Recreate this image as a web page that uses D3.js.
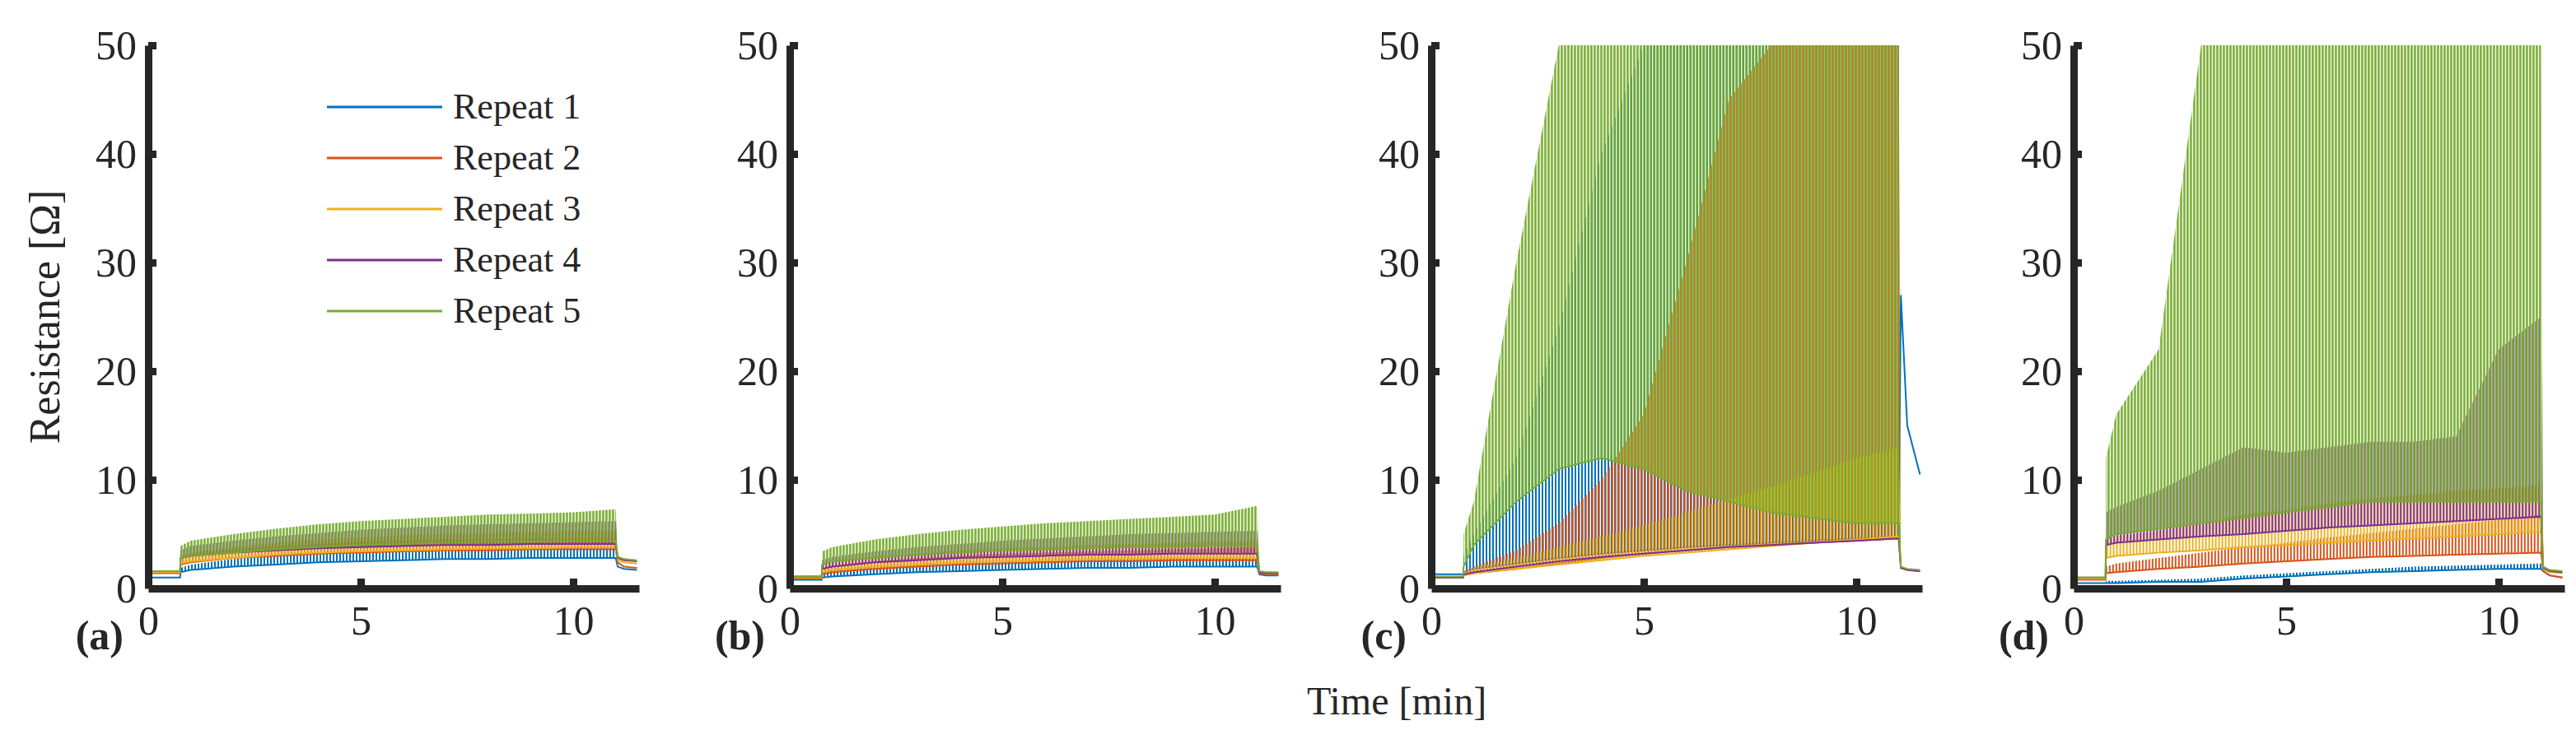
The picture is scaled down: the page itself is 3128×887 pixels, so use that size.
<!DOCTYPE html>
<html><head><meta charset="utf-8">
<script src="https://cdn.jsdelivr.net/npm/d3@7"></script>
<style>body{margin:0;background:#fff} text{font-family:'Liberation Serif','Times New Roman',Tinos,'DejaVu Serif',serif !important}</style>
</head><body><svg id="c" width="3128" height="887"></svg>
<script>
const times = [0,0.75,0.76,1,2,3,4,5,6,7,8,9,10,11,11.05,11.2,11.5];
const seriesNames = ["Repeat 1","Repeat 2","Repeat 3","Repeat 4","Repeat 5"];
const colors = ["#0072BD","#D95319","#EDB120","#7E2F8E","#77AC30"];
const panelLabels = ["(a)","(b)","(c)","(d)"];
const yTicks = [0,10,20,30,40,50];
const xTicks = [0,5,10];
const aLo = [
 [1,1,1.5,1.7,2.0,2.2,2.4,2.5,2.6,2.7,2.7,2.8,2.8,2.8,2.0,1.8,1.7],
 [1.4,1.4,2.2,2.4,2.8,3.0,3.2,3.3,3.4,3.5,3.5,3.6,3.6,3.6,2.4,2.0,1.9],
 [1.5,1.5,2.3,2.5,2.8,3.1,3.3,3.4,3.5,3.6,3.7,3.7,3.8,3.8,2.6,2.4,2.3],
 [1.6,1.6,2.8,3.0,3.3,3.5,3.7,3.8,3.9,4.0,4.0,4.1,4.1,4.1,2.8,2.6,2.5],
 [1.6,1.6,2.8,3.0,3.3,3.6,3.8,4.0,4.1,4.2,4.3,4.3,4.4,4.4,2.9,2.7,2.6]];
const aHi = [
 [1,1,1.9,2.2,2.7,3.0,3.2,3.3,3.4,3.5,3.6,3.6,3.7,3.7,2.0,1.8,1.7],
 [1.4,1.4,2.8,3.1,3.6,3.9,4.1,4.3,4.4,4.5,4.5,4.6,4.6,4.6,2.4,2.0,1.9],
 [1.5,1.5,3.0,3.3,3.8,4.2,4.5,4.7,4.9,5.0,5.1,5.2,5.3,5.3,2.6,2.4,2.3],
 [1.6,1.6,3.5,3.9,4.4,4.8,5.1,5.4,5.6,5.8,5.9,6.0,6.1,6.2,2.8,2.6,2.5],
 [1.6,1.6,3.9,4.4,5.0,5.5,5.9,6.2,6.4,6.6,6.8,6.9,7.0,7.3,2.9,2.7,2.6]];
const bLo = [
 [0.8,0.8,1.0,1.1,1.3,1.5,1.6,1.7,1.8,1.9,1.9,2.0,2.0,2.0,1.3,1.2,1.2],
 [0.9,0.9,1.3,1.5,1.8,2.0,2.2,2.3,2.4,2.5,2.5,2.6,2.6,2.6,1.4,1.3,1.3],
 [1.0,1.0,1.5,1.7,2.0,2.2,2.4,2.5,2.6,2.7,2.7,2.8,2.8,2.8,1.5,1.4,1.4],
 [1.1,1.1,1.8,2.0,2.4,2.6,2.8,2.9,3.0,3.1,3.1,3.2,3.2,3.2,1.5,1.4,1.4],
 [1.1,1.1,2.2,2.5,2.8,3.1,3.3,3.5,3.6,3.7,3.8,3.8,3.9,3.9,1.6,1.5,1.5]];
const bHi = [
 [0.8,0.8,1.4,1.6,1.9,2.1,2.3,2.4,2.5,2.6,2.7,2.7,2.8,2.8,1.3,1.2,1.2],
 [0.9,0.9,1.8,2.1,2.5,2.8,3.0,3.2,3.3,3.4,3.5,3.6,3.7,3.8,1.4,1.3,1.3],
 [1.0,1.0,2.1,2.4,2.9,3.2,3.5,3.7,3.8,4.0,4.1,4.2,4.3,4.4,1.5,1.4,1.4],
 [1.1,1.1,2.6,2.9,3.4,3.8,4.1,4.4,4.6,4.8,5.0,5.1,5.2,5.3,1.5,1.4,1.4],
 [1.1,1.1,3.4,3.8,4.5,5.0,5.4,5.7,6.0,6.2,6.4,6.6,6.8,7.6,1.6,1.5,1.5]];
const cLo = [
 [1.3,1.3,1.5,1.8,2.3,2.8,3.2,3.5,3.8,4.0,4.2,4.4,4.6,4.8,27,15,10.5],
 [1.0,1.0,1.2,1.4,1.8,2.3,2.8,3.2,3.5,3.8,4.0,4.2,4.4,4.6,1.9,1.7,1.6],
 [1.0,1.0,1.2,1.4,1.8,2.2,2.6,3.0,3.3,3.6,3.9,4.2,4.5,4.8,2.0,1.7,1.6],
 [1.0,1.0,1.3,1.5,2.0,2.5,2.9,3.2,3.5,3.8,4.0,4.2,4.4,4.6,1.9,1.7,1.6],
 [1.1,1.1,2.0,4.0,8.0,11,12,11,9.0,8.0,7.0,6.5,6.0,6.0,2.0,1.8,1.7]];
const cHi = [
 [1.3,1.3,3.0,5.0,12,24,40,50,50,50,50,50,50,50,27,15,10.5],
 [1.0,1.0,1.5,2.0,3.5,6.0,10,16,30,45,50,50,50,50,1.9,1.7,1.6],
 [1.0,1.0,1.5,1.9,2.8,3.8,4.8,5.8,7.0,8.2,9.4,10.6,12,13,2.0,1.7,1.6],
 [1.0,1.0,1.3,1.5,2.0,2.5,2.9,3.2,3.5,3.8,4.0,4.2,4.4,4.6,1.9,1.7,1.6],
 [1.1,1.1,5.0,8.0,30,50,50,50,50,50,50,50,50,50,2.0,1.8,1.7]];
const dLo = [
 [0.5,0.5,0.5,0.5,0.6,0.6,0.9,1.1,1.3,1.5,1.6,1.7,1.8,1.8,1.6,1.2,1.0],
 [0.8,0.8,1.4,1.5,1.8,2.0,2.3,2.5,2.7,2.9,3.0,3.1,3.2,3.3,1.6,1.2,1.0],
 [0.9,0.9,2.8,3.0,3.3,3.5,3.8,4.0,4.2,4.4,4.6,4.8,5.0,5.2,1.8,1.5,1.4],
 [1.0,1.0,4.0,4.2,4.5,4.8,5.0,5.3,5.6,5.8,6.0,6.2,6.4,6.6,1.9,1.6,1.5],
 [1.0,1.0,4.5,5.0,5.5,6.0,6.5,7.0,7.5,8.0,8.0,8.0,8.0,8.0,2.0,1.7,1.6]];
const dHi = [
 [0.5,0.5,0.7,0.7,0.8,0.9,1.2,1.4,1.6,1.8,2.0,2.1,2.2,2.3,1.6,1.2,1.0],
 [0.8,0.8,2.0,2.3,2.8,3.3,3.8,4.2,4.7,5.1,5.5,5.9,6.3,6.8,1.6,1.2,1.0],
 [0.9,0.9,4.5,4.8,5.3,6.0,6.8,7.2,7.8,8.3,8.6,9.0,9.2,9.5,1.8,1.5,1.4],
 [1.0,1.0,7.0,7.5,9.0,11,13,12.5,13,13.5,13.5,14,22,25,1.9,1.6,1.5],
 [1.0,1.0,12,16,22,50,50,50,50,50,50,50,50,50,2.0,1.7,1.6]];
const panels = [[aLo,aHi],[bLo,bHi],[cLo,cHi],[dLo,dHi]];

const svg = d3.select("#c");
const defs = svg.append("defs");
const stripeW = [2,2,2,2,2.6];
colors.forEach((c,i)=>{
  const p = defs.append("pattern").attr("id","st"+i).attr("patternUnits","userSpaceOnUse")
    .attr("width",4).attr("height",10).attr("x",i*0.8);
  p.append("rect").attr("width",stripeW[i]).attr("height",10).attr("fill",c);
});
const panelX0 = [180,959,1738,2518], W = 596, yTop = 55, yBot = 715;
const y = d3.scaleLinear().domain([0,50]).range([yBot,yTop]);

panels.forEach(([lo,hi],pi)=>{
  const x = d3.scaleLinear().domain([0,11.55]).range([panelX0[pi],panelX0[pi]+W]);
  const g = svg.append("g");
  const area = d3.area().x((d,j)=>x(times[j])).y0(d=>y(d[0])).y1(d=>y(d[1]));
  const line = d3.line().x((d,j)=>x(times[j])).y(d=>y(d));
  lo.forEach((s,si)=>{
    const pts = s.map((v,j)=>[v,hi[si][j]]);
    g.append("path").attr("d",area(pts)).attr("fill",`url(#st${si})`);
    g.append("path").attr("d",line(s)).attr("fill","none").attr("stroke",colors[si]).attr("stroke-width",2);
  });
  const ya = g.append("g").attr("transform",`translate(${panelX0[pi]},0)`)
    .call(d3.axisLeft(y).tickValues(yTicks).tickSizeInner(-10).tickSizeOuter(0).tickPadding(14));
  const xa = g.append("g").attr("transform",`translate(0,${yBot})`)
    .call(d3.axisBottom(x).tickValues(xTicks).tickSizeInner(-12).tickSizeOuter(0).tickPadding(20));
  [ya,xa].forEach(a=>{
    a.select(".domain").attr("stroke","#262626").attr("stroke-width",9);
    a.selectAll(".tick line").attr("stroke","#262626").attr("stroke-width",9);
    a.selectAll("text").attr("font-size",50).attr("fill","#262626");
  });
  xa.selectAll(".tick").filter(d=>d===0).select("line").remove();
  ya.selectAll(".tick").filter(d=>d===0).select("line").remove();
  g.append("text").attr("x",panelX0[pi]-30).attr("y",789).attr("text-anchor","end").attr("fill","#262626")
    .attr("font-size",50).attr("font-weight","bold").text(panelLabels[pi]);
});
const lg = svg.append("g");
seriesNames.forEach((n,i)=>{
  const yy = 130 + i*62;
  lg.append("line").attr("x1",397).attr("x2",537).attr("y1",yy).attr("y2",yy).attr("stroke",colors[i]).attr("stroke-width",3);
  lg.append("text").attr("x",550).attr("y",yy+14).attr("font-size",44).attr("fill","#262626").text(n);
});
svg.append("text").attr("transform","translate(72,385) rotate(-90)").attr("text-anchor","middle").attr("fill","#262626")
  .attr("font-size",52).text("Resistance [Ω]");
svg.append("text").attr("x",1696).attr("y",868).attr("text-anchor","middle").attr("fill","#262626").attr("font-size",48).text("Time [min]");
</script></body></html>
